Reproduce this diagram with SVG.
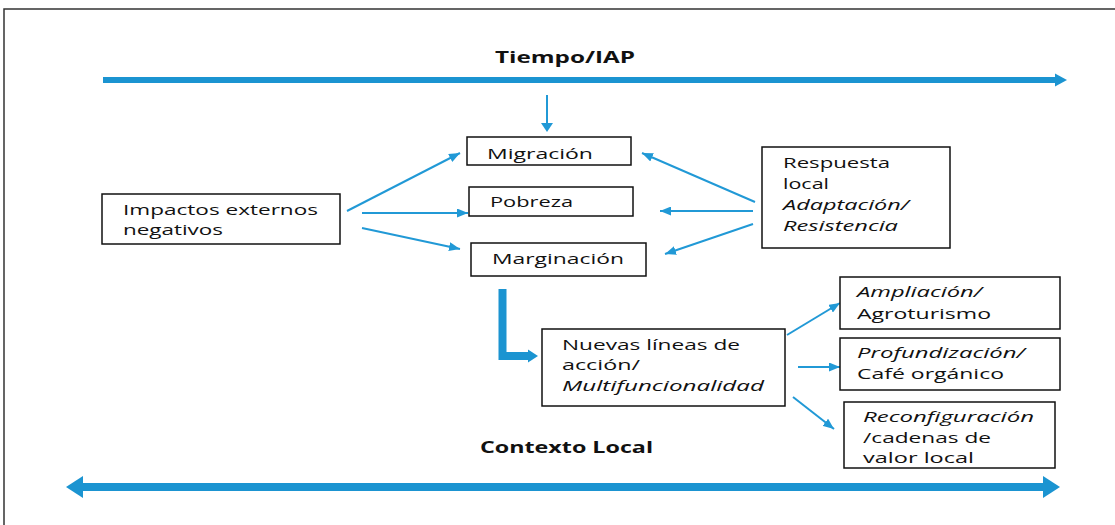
<svg xmlns="http://www.w3.org/2000/svg" width="1115" height="525" viewBox="0 0 1115 525">
  <style>
    .box { fill: #ffffff; stroke: #111111; stroke-width: 1.5; }
    .t { font-family: "Open Sans", "Liberation Sans", sans-serif; font-size: 15px; fill: #111111; }
    .i { font-style: italic; }
    .b { font-weight: bold; font-size: 15.5px; }
    .con { stroke: #2199d6; stroke-width: 2; fill: none; }
    .thick { fill: #1b94d1; }
  </style>
  <defs>
    <marker id="ah" markerUnits="userSpaceOnUse" markerWidth="11" markerHeight="9" refX="11" refY="4.5" orient="auto">
      <path d="M0,0 L11,4.5 L0,9 z" fill="#2199d6"/>
    </marker>
  </defs>
  <rect width="1115" height="525" fill="#ffffff"/>
  <!-- frame -->
  <path d="M4,525 V9 H1115" fill="none" stroke="#333333" stroke-width="1.5"/>

  <g id="timeline-top">
    <text class="t b" x="495" y="63" textLength="140" lengthAdjust="spacingAndGlyphs">Tiempo/IAP</text>
    <rect class="thick" x="103" y="77" width="953" height="6"/>
    <polygon class="thick" points="1055,73.5 1067,80 1055,86.5"/>
  </g>

  <g id="timeline-bottom">
    <text class="t b" x="480" y="453" textLength="173" lengthAdjust="spacingAndGlyphs">Contexto Local</text>
    <rect class="thick" x="82" y="483" width="962" height="8"/>
    <polygon class="thick" points="66,487 83,476 83,498"/>
    <polygon class="thick" points="1060,487 1043,476 1043,498"/>
  </g>

  <g id="connectors">
    <line x1="547" y1="95" x2="547" y2="124" stroke="#2199d6" stroke-width="2"/>
    <polygon points="541,123 553,123 547,132" fill="#2199d6"/>
    <line class="con" x1="347" y1="211" x2="460" y2="153" marker-end="url(#ah)"/>
    <line class="con" x1="362" y1="213" x2="468" y2="213" marker-end="url(#ah)"/>
    <line class="con" x1="362" y1="228" x2="460" y2="249" marker-end="url(#ah)"/>
    <line class="con" x1="755" y1="202" x2="642" y2="153" marker-end="url(#ah)"/>
    <line class="con" x1="753" y1="211" x2="660" y2="211" marker-end="url(#ah)"/>
    <line class="con" x1="753" y1="224" x2="665" y2="254" marker-end="url(#ah)"/>
    <path d="M502.5,289 V356 H529" fill="none" stroke="#1b94d1" stroke-width="8" stroke-linejoin="miter"/>
    <polygon class="thick" points="528,349.5 538,356 528,362.5"/>
    <line class="con" x1="787" y1="335" x2="840" y2="303" marker-end="url(#ah)"/>
    <line class="con" x1="798" y1="367" x2="840" y2="367" marker-end="url(#ah)"/>
    <line class="con" x1="793" y1="397" x2="834" y2="429" marker-end="url(#ah)"/>
  </g>

  <g id="impactos">
    <rect class="box" x="102" y="194" width="238" height="50"/>
    <text class="t" x="123" y="215" textLength="195" lengthAdjust="spacingAndGlyphs">Impactos externos</text>
    <text class="t" x="123" y="235" textLength="100" lengthAdjust="spacingAndGlyphs">negativos</text>
  </g>

  <g id="migracion">
    <rect class="box" x="467" y="137" width="164" height="28"/>
    <text class="t" x="487" y="159" textLength="106" lengthAdjust="spacingAndGlyphs">Migración</text>
  </g>

  <g id="pobreza">
    <rect class="box" x="469" y="187" width="164" height="29"/>
    <text class="t" x="490" y="207" textLength="83" lengthAdjust="spacingAndGlyphs">Pobreza</text>
  </g>

  <g id="marginacion">
    <rect class="box" x="471" y="243" width="175" height="33"/>
    <text class="t" x="492" y="264" textLength="132" lengthAdjust="spacingAndGlyphs">Marginación</text>
  </g>

  <g id="respuesta">
    <rect class="box" x="762" y="147" width="188" height="101"/>
    <text class="t" x="783" y="168" textLength="107" lengthAdjust="spacingAndGlyphs">Respuesta</text>
    <text class="t" x="783" y="189" textLength="46" lengthAdjust="spacingAndGlyphs">local</text>
    <text class="t i" x="783" y="210" textLength="126" lengthAdjust="spacingAndGlyphs">Adaptación/</text>
    <text class="t i" x="783" y="231" textLength="115" lengthAdjust="spacingAndGlyphs">Resistencia</text>
  </g>

  <g id="nuevas">
    <rect class="box" x="542" y="329" width="243" height="77"/>
    <text class="t" x="562" y="350" textLength="178" lengthAdjust="spacingAndGlyphs">Nuevas líneas de</text>
    <text class="t" x="562" y="370" textLength="78" lengthAdjust="spacingAndGlyphs">acción/</text>
    <text class="t i" x="562" y="391" textLength="202" lengthAdjust="spacingAndGlyphs">Multifuncionalidad</text>
  </g>

  <g id="ampliacion">
    <rect class="box" x="840" y="277" width="220" height="52"/>
    <text class="t i" x="857" y="297" textLength="125" lengthAdjust="spacingAndGlyphs">Ampliación/</text>
    <text class="t" x="857" y="319" textLength="134" lengthAdjust="spacingAndGlyphs">Agroturismo</text>
  </g>

  <g id="profundizacion">
    <rect class="box" x="840" y="338" width="220" height="52"/>
    <text class="t i" x="857" y="358" textLength="168" lengthAdjust="spacingAndGlyphs">Profundización/</text>
    <text class="t" x="857" y="379" textLength="147" lengthAdjust="spacingAndGlyphs">Café orgánico</text>
  </g>

  <g id="reconfiguracion">
    <rect class="box" x="844" y="402" width="211" height="66"/>
    <text class="t i" x="863" y="422" textLength="171" lengthAdjust="spacingAndGlyphs">Reconfiguración</text>
    <text class="t" x="863" y="443" textLength="128" lengthAdjust="spacingAndGlyphs">/cadenas de</text>
    <text class="t" x="863" y="463" textLength="111" lengthAdjust="spacingAndGlyphs">valor local</text>
  </g>
</svg>
